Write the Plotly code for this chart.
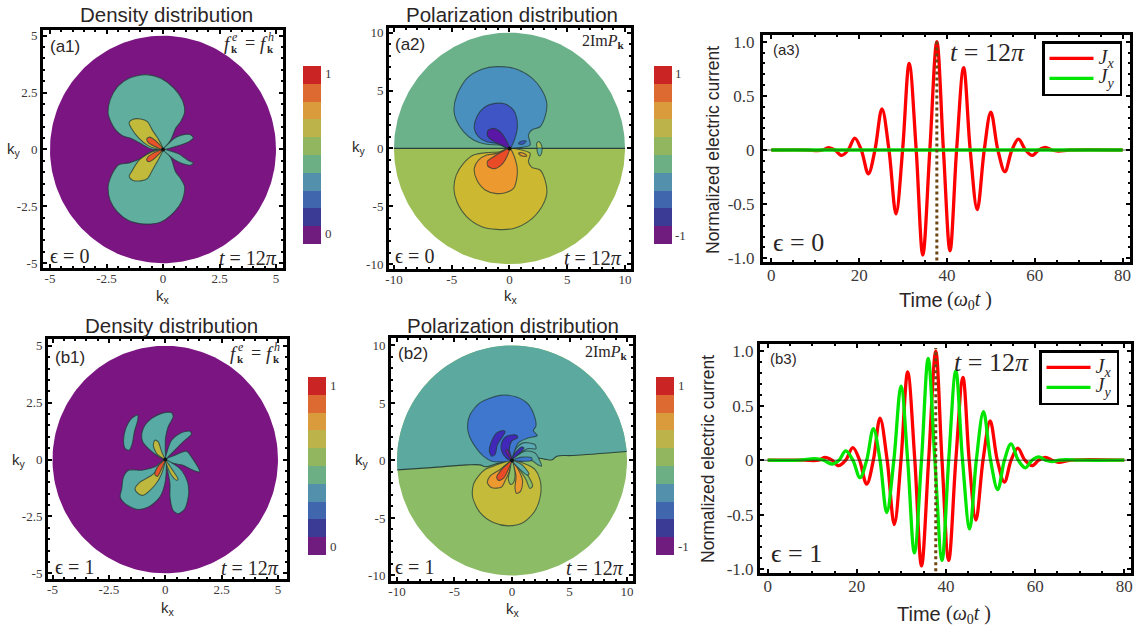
import numpy as np
import plotly.graph_objects as go

W, H = 1147, 635

# ---------- colour scale of the colour bars (bottom to top)
BAR_LEVELS = [0, 1, 2, 3, 4, 5, 6, 7, 8, 9]
BAR_COLORS = ["#701b7e", "#3b3a95", "#4066ae", "#5290ab", "#6caf85",
              "#92b560", "#bcb44a", "#d99b3c", "#dc6a31", "#cb2424"]

# ---------- (a1) density, level outlines as (kx, ky)
A1_TEAL_UP = [(0,0),(-0.54,0.03),(-0.99,0.26),(-1.43,0.49),(-1.79,0.60),(-2.09,0.85),(-2.31,1.22),(-2.43,1.59),
              (-2.34,2.18),(-2.01,2.76),(-1.5,3.13),(-0.76,3.29),(-0.10,3.13),(0.49,2.69),(0.85,2.18),(0.96,1.66),
              (0.78,1.22),(0.56,0.93),(0.34,0.41),(0,0)]
A1_TEAL_DOWN = [(0,0),(-0.54,-0.10),(-0.99,-0.40),(-1.5,-0.59),(-1.94,-0.66),(-2.16,-0.91),(-2.34,-1.28),(-2.43,-1.65),
                (-2.34,-2.24),(-2.01,-2.75),(-1.5,-3.13),(-0.76,-3.28),(-0.10,-3.19),(0.49,-2.75),(0.85,-2.24),(0.96,-1.65),
                (0.78,-1.28),(0.56,-0.99),(0.34,-0.35),(0,0)]
A1_LOBE_UP = [(0,0),(0.63,0.15),(1.15,0.34),(1.34,0.51),(1.19,0.66),(0.78,0.62),(0.46,0.46),(0.34,0.35),(0,0)]
A1_LOBE_DOWN = [(0,0),(0.66,-0.18),(1.15,-0.5),(1.34,-0.59),(1.22,-0.69),(0.85,-0.62),(0.49,-0.44),(0.34,-0.32),(0,0)]
A1_YELLOW_UP = [(0,0),(-0.18,0.41),(-0.47,0.85),(-0.69,1.22),(-0.99,1.34),(-1.35,1.32),(-1.5,1.18),(-1.4,0.93),
                (-1.06,0.49),(-0.69,0.19),(-0.32,0.04),(0,0)]
A1_YELLOW_DOWN = [(0,0),(-0.18,-0.40),(-0.47,-0.91),(-0.69,-1.28),(-0.99,-1.38),(-1.35,-1.35),(-1.5,-1.18),(-1.4,-0.99),
                  (-1.06,-0.47),(-0.69,-0.21),(-0.32,-0.06),(0,0)]
A1_RED_UP = [(0,0),(-0.18,0.24),(-0.47,0.49),(-0.62,0.54),(-0.72,0.46),(-0.66,0.31),(-0.4,0.15),(0,0)]
A1_RED_DOWN = [(0,0),(-0.18,-0.21),(-0.47,-0.47),(-0.62,-0.54),(-0.72,-0.47),(-0.66,-0.32),(-0.4,-0.15),(0,0)]

# ---------- (a2) polarization
A2_BLUE = [(0,0),(-0.81,0.29),(-1.96,0.35),(-3.11,0.72),(-3.98,1.44),(-4.61,2.45),(-4.81,3.31),(-4.55,4.61),(-3.69,6.05),
           (-2.39,6.83),(-1.1,7.06),(0.35,6.92),(1.79,6.2),(2.8,5.04),(3.23,3.89),(3.08,2.74),(2.65,1.87),(1.93,1.59),
           (1.64,1.15),(1.79,0.29),(1.07,0.09),(0,0)]
A2_DARKBLUE = [(0,0),(0.63,1.44),(0.63,2.59),(0.35,3.31),(-0.37,3.83),(-1.24,3.89),(-2.1,3.6),(-2.82,2.74),(-3.05,1.73),
               (-2.68,1.0),(-1.96,0.58),(-1.1,0.43),(0,0)]
A2_PURPLE = [(0,0),(-0.37,0.86),(-0.81,1.44),(-1.38,1.73),(-1.87,1.53),(-1.9,1.07),(-1.38,0.63),(-0.66,0.29),(0,0)]
A2_TINY_BLUE = [(0.78,0.43),(1.07,0.63),(1.44,0.63),(1.27,0.43),(0.92,0.35),(0.78,0.43)]
A2_YELLOW = [(0,0),(-0.81,-0.29),(-1.96,-0.37),(-3.11,-0.58),(-3.98,-1.3),(-4.61,-2.31),(-4.81,-3.46),(-4.55,-4.61),
             (-3.69,-5.91),(-2.39,-6.77),(-1.1,-7.0),(0.35,-6.92),(1.79,-6.2),(2.8,-5.04),(3.23,-3.89),(3.08,-2.74),
             (2.65,-1.87),(1.93,-1.64),(1.64,-1.15),(1.79,-0.43),(1.07,-0.14),(0,0)]
A2_ORANGE = [(0,0),(0.63,-1.44),(0.63,-2.59),(0.35,-3.46),(-0.37,-3.83),(-1.24,-3.89),(-2.1,-3.6),(-2.82,-2.74),
             (-3.05,-1.73),(-2.68,-1.01),(-1.96,-0.58),(-1.1,-0.43),(0,0)]
A2_RED = [(0,0),(-0.37,-1.01),(-0.81,-1.53),(-1.38,-1.76),(-1.87,-1.53),(-1.9,-1.1),(-1.38,-0.72),(-0.66,-0.29),(0,0)]
A2_TINY_ORANGE = [(0.78,-0.43),(1.07,-0.66),(1.5,-0.66),(1.35,-0.49),(0.98,-0.37),(0.78,-0.43)]
A2_OVAL_UP = [(2.42,0),(2.36,0.43),(2.51,0.6),(2.71,0.43),(2.8,0),(2.42,0)]
A2_OVAL_DOWN = [(2.42,0),(2.45,-0.43),(2.59,-0.66),(2.77,-0.43),(2.8,0),(2.42,0)]

# ---------- (b1) density
B1_ISLAND = [(-1.22,1.96),(-1.49,1.81),(-1.75,1.37),(-1.85,0.85),(-1.78,0.49),(-1.6,0.41),(-1.46,0.71),(-1.37,1.22),
             (-1.22,1.74),(-1.22,1.96)]
B1_WING_UP = [(0,0),(-0.38,0.19),(-0.75,0.49),(-1.0,0.78),(-1.04,1.15),(-0.9,1.51),(-0.6,1.81),(-0.16,2.03),(0.28,2.06),
              (0.35,1.88),(0.13,1.44),(0.01,0.93),(0,0.41),(0,0)]
B1_WING_UR = [(0,0),(0.1,0.41),(0.28,0.85),(0.65,1.15),(1.09,1.25),(1.16,1.12),(0.79,0.78),(0.35,0.34),(0.13,0.12),(0,0)]
B1_WING_R = [(0,0),(0.43,0.19),(0.94,0.37),(1.16,0.12),(1.53,-0.54),(1.24,-0.47),(0.79,-0.25),(0.43,-0.18),(0.13,-0.1),(0,0)]
B1_WING_DR = [(0,0),(0.1,-0.47),(0.21,-1.06),(0.21,-1.65),(0.35,-2.24),(0.57,-2.38),(0.87,-2.16),(1.04,-1.5),(0.99,-0.99),
              (0.72,-0.47),(0.35,-0.18),(0,0)]
B1_WING_DL = [(0,0),(-0.46,-0.32),(-1.04,-0.47),(-1.63,-0.47),(-1.85,-0.76),(-1.93,-1.28),(-2.0,-1.65),(-1.78,-1.94),
              (-1.26,-2.19),(-0.75,-2.09),(-0.24,-1.65),(0.01,-0.91),(0,0)]
B1_YELLOW_UP = [(0,0),(-0.16,0.34),(-0.31,0.78),(-0.46,0.85),(-0.53,0.63),(-0.38,0.26),(-0.16,0.09),(0,0)]
B1_YELLOW_DR = [(0,0),(0.28,-0.4),(0.57,-0.87),(0.5,-0.91),(0.28,-0.69),(0.1,-0.32),(0,0)]
B1_YELLOW_DL = [(0,0),(-0.16,-0.62),(-0.46,-1.13),(-0.97,-1.57),(-1.19,-1.5),(-1.34,-1.28),(-1.12,-0.99),(-0.6,-0.69),
                (-0.31,-0.4),(0,0)]
B1_RED = [(0,0),(-0.16,-0.4),(-0.35,-0.74),(-0.46,-0.65),(-0.34,-0.32),(-0.13,-0.1),(0,0)]

# ---------- (b2) polarization
B2_DIVIDE = [(-9.97,-0.82),(-7,-0.62),(-3.9,-0.38),(-2.8,-0.38),(-2.3,-0.55),(-1.47,-0.32),(0,0),(2.4,0.2),(3.0,0.08),
             (3.5,0.06),(3.9,0.37),(5.3,0.43),(9.97,0.78)]
B2_BLUE = [(0,0),(-1.04,-0.12),(-1.76,-0.06),(-2.49,0.38),(-3.12,1.1),(-3.7,2.11),(-3.87,2.98),(-3.64,3.99),(-2.77,5.03),
           (-1.04,5.66),(0.4,5.52),(1.42,4.88),(1.99,3.73),(2.08,2.98),(1.85,2.6),(2.2,2.17),(1.42,1.97),(0.55,1.53),
           (0.12,0.52),(0,0)]
B2_DARK_A = [(-0.75,2.6),(-1.33,2.4),(-1.77,1.68),(-1.97,0.81),(-1.77,0.38),(-1.47,0.52),(-1.27,1.38),(-0.6,2.49),(-0.75,2.6)]
B2_DARK_B = [(0,0),(-0.46,0.17),(-0.9,0.81),(-0.9,1.53),(-0.46,2.11),(0.4,2.2),(0.49,1.97),(-0.03,1.68),(-0.23,0.95),(0,0)]
B2_PURPLE = [(0,0),(-0.4,0.52),(-0.55,0.87),(-0.4,0.95),(-0.17,0.52),(0,0)]
B2_TEAL_F1 = [(0,0),(0.4,1.1),(0.98,1.53),(1.99,1.39),(2.08,1.01),(1.42,1.04),(0.69,0.66),(0,0)]
B2_DARK_C = [(0,0),(0.26,0.66),(0.84,1.18),(1.04,1.1),(0.55,0.52),(0,0)]
B2_TEAL_F2 = [(0,0),(1.13,0.81),(2.0,0.66),(2.57,-0.49),(2.2,-0.35),(1.71,0.0),(0.84,-0.06),(0,0)]
B2_BLUE_F = [(0,0),(0.84,0.29),(1.71,0.23),(1.71,0),(0.84,-0.06),(0,0)]
B2_YELLOW = [(0,0),(-1.62,-0.49),(-2.34,-0.78),(-2.92,-1.36),(-3.35,-2.08),(-3.41,-3.24),(-2.77,-4.54),(-1.62,-5.4),
             (-0.32,-5.69),(0.98,-5.4),(1.99,-4.39),(2.49,-2.95),(2.43,-1.65),(1.99,-0.78),(1.27,-0.35),(0,0)]
B2_ORANGE_L = [(0,0),(-0.17,-0.78),(-0.61,-1.79),(-0.9,-2.31),(-1.76,-2.37),(-2.14,-1.93),(-1.91,-1.36),(-1.04,-0.78),(0,0)]
B2_RED = [(0,0),(-0.32,-0.78),(-0.75,-1.56),(-1.18,-1.73),(-1.33,-1.45),(-0.9,-0.78),(-0.46,-0.35),(0,0)]
B2_ORANGE_F = [(0,0),(0.55,-0.78),(0.92,-1.79),(0.75,-2.66),(0.4,-2.86),(0.26,-2.37),(0.35,-1.36),(0,0)]
B2_GREEN_F1 = [(0,0),(0.26,-1.07),(0.12,-1.94),(-0.12,-2.08),(-0.32,-1.65),(-0.17,-0.78),(0,0)]
B2_GREEN_F2 = [(0,0),(1.13,-0.92),(1.79,-2.23),(1.56,-2.43),(1.21,-1.65),(0.55,-0.64),(0,0)]
B2_TEAL_F3 = [(0,0),(0.84,-0.35),(1.47,-1.16),(1.33,-1.27),(0.69,-0.78),(0,0)]

# ---------- (a3) normalized currents
A3_T = [0,8,10.5,11.7,13,14.5,16,17.5,19,20.5,22.1,23.6,25.2,26.8,28.4,29.9,31.4,33,34.5,36.1,37.7,39.2,40.7,42.2,43.8,
        45.3,46.9,48.5,50,51.6,53.2,54.8,56.3,57.9,59.4,60.9,62.4,63.9,65.4,68,80]
A3_JX = [0,0,-0.005,0,0.022,0,-0.05,0,0.11,0,-0.22,0,0.38,0,-0.59,0,0.80,0,-0.97,0,1.0,0,-0.93,0,0.76,
         0,-0.55,0,0.35,0,-0.20,0,0.10,0,-0.05,0,0.025,0,-0.01,0,0]
A3_JY_T = [0,80]
A3_JY = [0,0]
A3_MARK_T = [37.7,37.7]
A3_MARK_J = [-1.02,1.03]

# ---------- (b3) normalized currents
B3_TX = [0,8,11.4,12.9,14.4,15.9,17.5,19.1,20.6,22.2,23.7,25.2,26.8,28.4,29.9,31.4,33,34.5,36.1,37.7,39.1,40.6,42.2,43.8,
         45.2,46.7,48.3,49.9,51.5,53.1,54.6,56.1,57.7,59.3,60.8,62.3,63.8,65.3,68,80]
B3_JX = [0,0,0,0.025,0,-0.05,0,0.115,0,-0.22,0,0.385,0,-0.59,0,0.81,0,-0.97,0,1.0,0,-0.92,0,0.76,
         0,-0.55,0,0.36,0,-0.20,0,0.11,0,-0.05,0,0.025,0,-0.02,0,0]
B3_TY = [0,7,10.6,12.5,14.4,16,17.5,19.1,20.7,22.2,23.7,25.2,26.7,28.3,29.9,31.4,32.9,34.5,36,37.5,39.1,40.6,42.2,43.7,
         45.3,46.8,48.4,50,51.6,53.1,54.6,56.2,57.8,59.3,60.8,62.3,63.8,65.3,66.8,70,80]
B3_JY = [0,0,0.015,0,-0.035,0,0.085,0,-0.16,0,0.29,0,-0.48,0,0.68,0,-0.85,0,0.935,0,-0.92,0,0.82,0,
         -0.63,0,0.445,0,-0.27,0,0.15,0,-0.07,0,0.03,0,-0.012,0,0.004,0,0]
B3_MARK_T = [37.7,37.7]
B3_MARK_J = [-1.02,1.03]

# ---------- tick labels
TICKS_5 = [-5,-2.5,0,2.5,5]
LABELS_5 = ["-5","-2.5","0","2.5","5"]
TICKS_10 = [-10,-5,0,5,10]
LABELS_10 = ["-10","-5","0","5","10"]
TICKS_T = [0,20,40,60,80]
LABELS_T = ["0","20","40","60","80"]
TICKS_J = [-1,-0.5,0,0.5,1]
LABELS_J = ["-1.0","-0.5","0","0.5","1.0"]

SERIF = "Liberation Serif"
SANS = "Liberation Sans"
INK = "#2b2626"
LINE = "rgba(35,55,55,0.72)"

fig = go.Figure()
layout = {}
annotations = []
n_axes = 0


def new_axes(box, xr, yr, xticks, xlabels, yticks, ylabels, xminor, yminor, size, ystandoff=0):
    global n_axes
    n_axes += 1
    s = "" if n_axes == 1 else str(n_axes)
    l, t, r, b = box
    common = dict(showgrid=False, zeroline=False, showline=True, linecolor="black", linewidth=3, mirror="allticks",
                  ticks="inside", ticklen=4, tickwidth=2, tickcolor="black", tickmode="array",
                  tickfont=dict(family=SERIF, size=size, color="#3c3838"))
    minor = dict(ticks="inside", ticklen=2, tickwidth=1.5, tickcolor="black", showgrid=False)
    layout["xaxis" + s] = dict(common, domain=[l / W, r / W], range=xr, anchor="y" + s, tickvals=xticks,
                               ticktext=xlabels, ticklabelstandoff=-4,
                               minor=dict(minor, tickmode="array", tickvals=xminor))
    layout["yaxis" + s] = dict(common, domain=[1 - b / H, 1 - t / H], range=yr, anchor="x" + s, tickvals=yticks,
                               ticktext=ylabels, ticklabelstandoff=ystandoff,
                               minor=dict(minor, tickmode="array", tickvals=yminor))
    return "x" + s, "y" + s


def add_bar(box):
    global n_axes
    n_axes += 1
    s = str(n_axes)
    l, t, r, b = box
    hidden = dict(visible=False, showgrid=False, zeroline=False)
    layout["xaxis" + s] = dict(hidden, domain=[l / W, r / W], anchor="y" + s)
    layout["yaxis" + s] = dict(hidden, domain=[1 - b / H, 1 - t / H], anchor="x" + s)
    n = len(BAR_COLORS)
    scale = []
    for i, c in enumerate(BAR_COLORS):
        scale += [[i / n, c], [(i + 1) / n, c]]
    fig.add_trace(go.Heatmap(z=[[v] for v in BAR_LEVELS], x=[0], y=BAR_LEVELS, zmin=-0.5, zmax=9.5, colorscale=scale,
                             showscale=False, hoverinfo="skip", xaxis="x" + s, yaxis="y" + s))


def disc_arc(radius, a0, a1):
    angles = np.radians(np.linspace(a0, a1, 181))
    return list(radius * np.cos(angles)), list(radius * np.sin(angles))


def region(ax, pts, color, outline=True):
    xs = [p[0] for p in pts]
    ys = [p[1] for p in pts]
    fig.add_trace(go.Scatter(x=xs, y=ys, mode="lines", fill="toself", fillcolor=color, hoverinfo="skip",
                             line=dict(color=LINE if outline else color, width=1.1 if outline else 0,
                                       shape="spline", smoothing=0.8),
                             showlegend=False, xaxis=ax[0], yaxis=ax[1]))


def disc_region(ax, xs, ys, color):
    fig.add_trace(go.Scatter(x=xs, y=ys, mode="lines", fill="toself", fillcolor=color, hoverinfo="skip",
                             line=dict(width=0, color=color), showlegend=False, xaxis=ax[0], yaxis=ax[1]))


def curve(ax, xs, ys, color, width, name=None, legend=None, shape="spline", dash=None):
    fig.add_trace(go.Scatter(x=xs, y=ys, mode="lines", name=name, showlegend=name is not None, legend=legend,
                             line=dict(color=color, width=width, shape=shape, smoothing=1.0, dash=dash),
                             xaxis=ax[0], yaxis=ax[1]))


def center_dot(ax):
    fig.add_trace(go.Scatter(x=[0], y=[0], mode="markers", marker=dict(color="#111111", size=4), hoverinfo="skip",
                             showlegend=False, xaxis=ax[0], yaxis=ax[1]))


def text(s, x, y, size, family=SERIF, color=INK, anchor="left", angle=0):
    annotations.append(dict(text=s, x=x / W, y=1 - y / H, xref="paper", yref="paper", showarrow=False,
                            xanchor=anchor, yanchor="middle", textangle=angle,
                            font=dict(family=family, size=size, color=color)))


def f_equal(x, y):
    text("<i>f</i>", x, y, 19)
    text("<i>e</i>", x + 8, y - 6, 12)
    text("<b>k</b>", x + 7, y + 6, 11)
    text("=", x + 21, y, 18)
    text("<i>f</i>", x + 36, y, 19)
    text("<i>h</i>", x + 44, y - 6, 12)
    text("<b>k</b>", x + 43, y + 6, 11)


PURPLE = "#7a1582"
TEAL = "#5fae9e"
YELLOW = "#c2ba3b"
RED = "#e9532a"

# ---- a1
ax = new_axes((43, 30, 283, 268), [-5.31, 5.31], [-5.21, 5.25], TICKS_5, LABELS_5, TICKS_5, LABELS_5,
              [v / 2 for v in range(-10, 11)], [v / 2 for v in range(-10, 11)], 13)
disc_region(ax, *disc_arc(5, 0, 360), PURPLE)
for pts in (A1_TEAL_UP, A1_TEAL_DOWN, A1_LOBE_UP, A1_LOBE_DOWN):
    region(ax, pts, TEAL)
for pts in (A1_YELLOW_UP, A1_YELLOW_DOWN):
    region(ax, pts, YELLOW)
for pts in (A1_RED_UP, A1_RED_DOWN):
    region(ax, pts, RED)
center_dot(ax)

# ---- a2
ax = new_axes((389, 28, 631, 269), [-10.43, 10.52], [-10.42, 10.4], TICKS_10, LABELS_10, TICKS_10, LABELS_10,
              list(range(-10, 11)), list(range(-10, 11)), 13)
disc_region(ax, *disc_arc(10, 0, 180), "#6bb28a")
disc_region(ax, *disc_arc(10, 180, 360), "#9dbf56")
region(ax, A2_BLUE, "#4a90bf")
region(ax, A2_DARKBLUE, "#3f55c6")
region(ax, A2_PURPLE, "#5a17a6")
region(ax, A2_TINY_BLUE, "#3f55c6")
region(ax, A2_YELLOW, "#cdb832")
region(ax, A2_ORANGE, "#ec9a2f")
region(ax, A2_RED, "#e94b27")
region(ax, A2_TINY_ORANGE, "#ec9a2f")
curve(ax, [-10, 10], [0, 0], "rgba(30,50,50,0.9)", 1.1, shape="linear")
region(ax, A2_OVAL_UP, "#a9c354")
region(ax, A2_OVAL_DOWN, "#5fb0a3")
center_dot(ax)

# ---- b1
ax = new_axes((48, 339, 287, 579), [-5.2, 5.4], [-5.25, 5.3], TICKS_5, LABELS_5, TICKS_5, LABELS_5,
              [v / 2 for v in range(-10, 11)], [v / 2 for v in range(-10, 11)], 13)
disc_region(ax, *disc_arc(5, 0, 360), PURPLE)
for pts in (B1_ISLAND, B1_WING_UP, B1_WING_UR, B1_WING_R, B1_WING_DR, B1_WING_DL):
    region(ax, pts, "#58aaa5")
for pts in (B1_YELLOW_UP, B1_YELLOW_DR, B1_YELLOW_DL):
    region(ax, pts, "#bfb83f")
region(ax, B1_RED, RED)
center_dot(ax)

# ---- b2
ax = new_axes((391, 338, 633, 581), [-10.52, 10.52], [-10.48, 10.65], TICKS_10, LABELS_10, TICKS_10, LABELS_10,
              list(range(-10, 11)), list(range(-10, 11)), 13)
disc_region(ax, *disc_arc(10, 0, 360), "#8cbc66")
arc_x, arc_y = disc_arc(10, 4.5, 184.7)
disc_region(ax, [p[0] for p in B2_DIVIDE] + arc_x, [p[1] for p in B2_DIVIDE] + arc_y, "#5ba99f")
curve(ax, [p[0] for p in B2_DIVIDE], [p[1] for p in B2_DIVIDE], "rgba(30,50,50,0.85)", 1.1)
region(ax, B2_BLUE, "#3e77cd")
region(ax, B2_DARK_A, "#4228b8")
region(ax, B2_DARK_B, "#4228b8")
region(ax, B2_PURPLE, "#7a1a9a")
region(ax, B2_TEAL_F1, "#5ba9b2")
region(ax, B2_DARK_C, "#4228b8")
region(ax, B2_TEAL_F2, "#5ba99f")
region(ax, B2_BLUE_F, "#3e77cd")
region(ax, B2_YELLOW, "#c4bb3a")
region(ax, B2_ORANGE_L, "#ec9a2f")
region(ax, B2_RED, "#e94b27")
region(ax, B2_ORANGE_F, "#ec9a2f")
region(ax, B2_GREEN_F1, "#8cbc66")
region(ax, B2_GREEN_F2, "#8cbc66")
region(ax, B2_TEAL_F3, "#5fb0a8")
center_dot(ax)

JX_NAME = '<span style="font-size:20px"><i>J<sub>x</sub></i></span>'
JY_NAME = '<span style="font-size:20px"><i>J<sub>y</sub></i></span>'

# ---- a3
ax = new_axes((763, 35, 1130, 262), [-1.9, 81.7], [-1.034, 1.062], TICKS_T, LABELS_T, TICKS_J, LABELS_J,
              list(range(0, 81, 5)), [v / 10 for v in range(-10, 11)], 17, ystandoff=2)
curve(ax, A3_T, A3_JX, "#ff0000", 3.3, JX_NAME, "legend")
curve(ax, A3_JY_T, A3_JY, "#00e600", 3.3, JY_NAME, "legend", shape="linear")
curve(ax, [-1.9, 81.7], [0, 0], "#1d3d1d", 0.8, shape="linear")
curve(ax, A3_MARK_T, A3_MARK_J, "#6f4510", 3, shape="linear", dash="dot")

# ---- b3
ax = new_axes((760, 344, 1131, 573), [-1.73, 81.5], [-1.035, 1.066], TICKS_T, LABELS_T, TICKS_J, LABELS_J,
              list(range(0, 81, 5)), [v / 10 for v in range(-10, 11)], 17)
curve(ax, B3_TX, B3_JX, "#ff0000", 3.3, JX_NAME, "legend2")
curve(ax, B3_TY, B3_JY, "#00e600", 3.3, JY_NAME, "legend2")
curve(ax, [-1.73, 81.5], [0, 0], "#1d2d1d", 0.8, shape="linear")
curve(ax, B3_MARK_T, B3_MARK_J, "#6f4510", 3, shape="linear", dash="dot")

# ---- colour bars
add_bar((303, 66, 321, 244))
add_bar((654, 66, 672, 244))
add_bar((308, 377, 326, 555))
add_bar((656, 377, 674, 555))

# ---- texts
for s, x, y in [("Density distribution", 166, 15), ("Polarization distribution", 512, 15),
                ("Density distribution", 171, 325), ("Polarization distribution", 513, 325)]:
    text(s, x, y, 20.5, SANS, anchor="center")
for s, x, y in [("k<sub>x</sub>", 163, 296), ("k<sub>y</sub>", 14, 149), ("k<sub>x</sub>", 511, 297),
                ("k<sub>y</sub>", 359, 148), ("k<sub>x</sub>", 168, 608), ("k<sub>y</sub>", 19, 460),
                ("k<sub>x</sub>", 513, 609), ("k<sub>y</sub>", 362, 460)]:
    text(s, x, y, 15, SANS, anchor="center")
for s, x, y in [("(a1)", 48, 46), ("(a2)", 393, 44), ("(b1)", 53, 357), ("(b2)", 396, 353)]:
    text(s, x, y, 17, SANS)
for s, x, y in [("(a3)", 771, 50), ("(b3)", 768, 358)]:
    text(s, x, y, 15, SANS)
for s, x, y in [("ϵ = 0", 48, 256), ("ϵ = 0", 393, 256), ("ϵ = 1", 53, 567), ("ϵ = 1", 393, 567)]:
    text(s, x, y, 20)
for s, x, y in [("<i>t</i> = 12<i>π</i>", 217, 258), ("<i>t</i> = 12<i>π</i>", 562, 258),
                ("<i>t</i> = 12<i>π</i>", 219, 568), ("<i>t</i> = 12<i>π</i>", 564, 568)]:
    text(s, x, y, 20)
f_equal(222, 43)
f_equal(228, 353)
text("2Im<i>P</i><sub><b>k</b></sub>", 580, 42, 16)
text("2Im<i>P</i><sub><b>k</b></sub>", 583, 352, 16)
text("ϵ = 0", 771, 242, 26)
text("ϵ = 1", 769, 553, 26)
text("<i>t</i> = 12<i>π</i>", 948, 53, 26)
text("<i>t</i> = 12<i>π</i>", 952, 362, 26)
text("Normalized electric current", 713, 150, 17.5, SANS, anchor="center", angle=-90)
text("Normalized electric current", 708, 459, 17.5, SANS, anchor="center", angle=-90)
text("Time", 897, 300, 20, SANS)
text("(<i>ω</i><sub>0</sub><i>t</i> )", 945, 300, 20)
text("Time", 895, 614, 20, SANS)
text("(<i>ω</i><sub>0</sub><i>t</i> )", 944, 614, 20)
for s, x, y in [("1", 323, 74), ("0", 323, 234), ("1", 673, 74), ("-1", 673, 235),
                ("1", 328, 385), ("0", 328, 546), ("1", 676, 385), ("-1", 676, 546)]:
    text(s, x, y, 13, color="#3c3838")

legend_style = dict(bgcolor="white", bordercolor="black", borderwidth=2.5, xanchor="left", yanchor="top",
                    font=dict(family=SERIF, size=13, color=INK), itemwidth=44, tracegroupgap=0)
layout["legend"] = dict(legend_style, x=1042 / W, y=1 - 41 / H)
layout["legend2"] = dict(legend_style, x=1039 / W, y=1 - 350 / H)

fig.update_layout(width=W, height=H, margin=dict(l=0, r=0, t=0, b=0, autoexpand=False), paper_bgcolor="white",
                  plot_bgcolor="white", annotations=annotations, **layout)
fig.write_html("out.html", config={"displayModeBar": False}, post_script="document.body.style.margin='0';")
